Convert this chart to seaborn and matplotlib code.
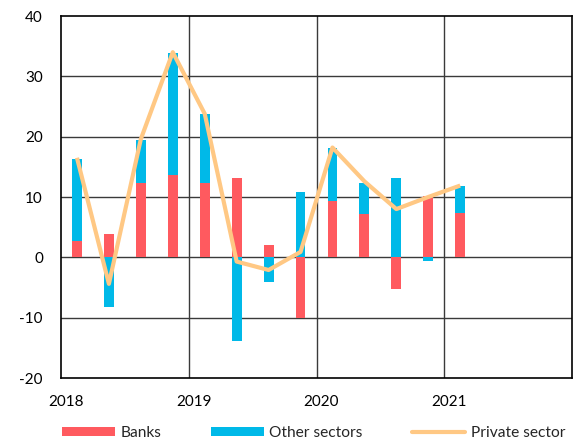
import numpy as np
import pandas as pd
import matplotlib
matplotlib.use("Agg")
import matplotlib.pyplot as plt
import matplotlib.transforms as mtransforms
from matplotlib.patches import Patch
from matplotlib.lines import Line2D
import seaborn as sns

# Quarterly flows, 2018Q1 - 2021Q1
quarters = ["2018Q1", "2018Q2", "2018Q3", "2018Q4",
            "2019Q1", "2019Q2", "2019Q3", "2019Q4",
            "2020Q1", "2020Q2", "2020Q3", "2020Q4",
            "2021Q1"]
banks = [2.7, 3.8, 12.3, 13.7, 12.3, 13.2, 2.0, -10.0, 9.3, 7.1, -5.2, 10.2, 7.4]
other_sectors = [13.6, -8.2, 7.2, 20.1, 11.5, -13.9, -4.1, 10.8, 8.8, 5.2, 13.2, -0.55, 4.4]
private_sector = [16.5, -4.4, 19.6, 34.0, 23.8, -0.7, -2.1, 0.9, 18.2, 12.6, 8.0, 10.0, 11.9]
year_ticks = [2018, 2019, 2020, 2021]

RED = "#FF5A5F"
BLUE = "#00B9E8"
ORANGE = "#FFC884"

sns.set_theme(style="white")
plt.rcParams["font.family"] = ["Lato", "DejaVu Sans"]
plt.rcParams["axes.unicode_minus"] = False

# quarter midpoints on a continuous year axis
pos = np.array([int(q[:4]) + (int(q[-1]) - 0.5) / 4 for q in quarters])
df = pd.DataFrame({"pos": pos, "banks": banks, "other": other_sectors,
                   "private": private_sector})
b = np.array(banks)
o = np.array(other_sectors)
other_bottom = np.where(np.sign(b) == np.sign(o), b, 0.0)

fig = plt.figure(figsize=(5.85, 4.44), dpi=100)
ax = fig.add_axes([61 / 585, 1 - 378 / 444, (572 - 61) / 585, (378 - 16) / 444])

sns.barplot(data=df, x="pos", y="banks", native_scale=True, width=0.31,
            color=RED, saturation=1, edgecolor="none", ax=ax, zorder=2)
sns.barplot(data=df, x="pos", y="other", native_scale=True, width=0.31,
            color=BLUE, saturation=1, edgecolor="none", ax=ax,
            bottom=other_bottom, zorder=2)
sns.lineplot(data=df, x="pos", y="private", color=ORANGE, lw=3,
             ax=ax, zorder=3, solid_joinstyle="round", solid_capstyle="butt")

ax.set_xlim(2018, 2022)
ax.set_ylim(-20, 40)
ax.set_yticks(range(-20, 41, 10))
ax.set_xticks(year_ticks)
ax.set_xticklabels([str(y) for y in year_ticks])
ax.set_xlabel("")
ax.set_ylabel("")

for y in range(-10, 40, 10):
    ax.axhline(y, color="#3a3a3a", lw=1, zorder=1)
for x in year_ticks[1:]:
    ax.axvline(x, color="#3a3a3a", lw=1, zorder=1)

for s in ax.spines.values():
    s.set_visible(True)
    s.set_color("black")
    s.set_linewidth(1.2)

ax.tick_params(axis="both", length=0, labelsize=11, colors="black")
ax.tick_params(axis="y", pad=13)
ax.tick_params(axis="x", pad=12)
shift = mtransforms.ScaledTranslation(5 / 100, 0, fig.dpi_scale_trans)
for lab in ax.get_xticklabels():
    lab.set_transform(lab.get_transform() + shift)

handles = [Patch(facecolor=RED, edgecolor="none", label="Banks"),
           Patch(facecolor=BLUE, edgecolor="none", label="Other sectors"),
           Line2D([], [], color=ORANGE, lw=3, label="Private sector")]
fig.legend(handles=handles, loc="center left", bbox_to_anchor=(62 / 585, 1 - 433 / 444),
           ncol=3, frameon=False, fontsize=11.2, handlelength=3.4, handleheight=0.55,
           handletextpad=0.35, columnspacing=3.2, borderpad=0, borderaxespad=0)

fig.savefig("out.png", dpi=100)
